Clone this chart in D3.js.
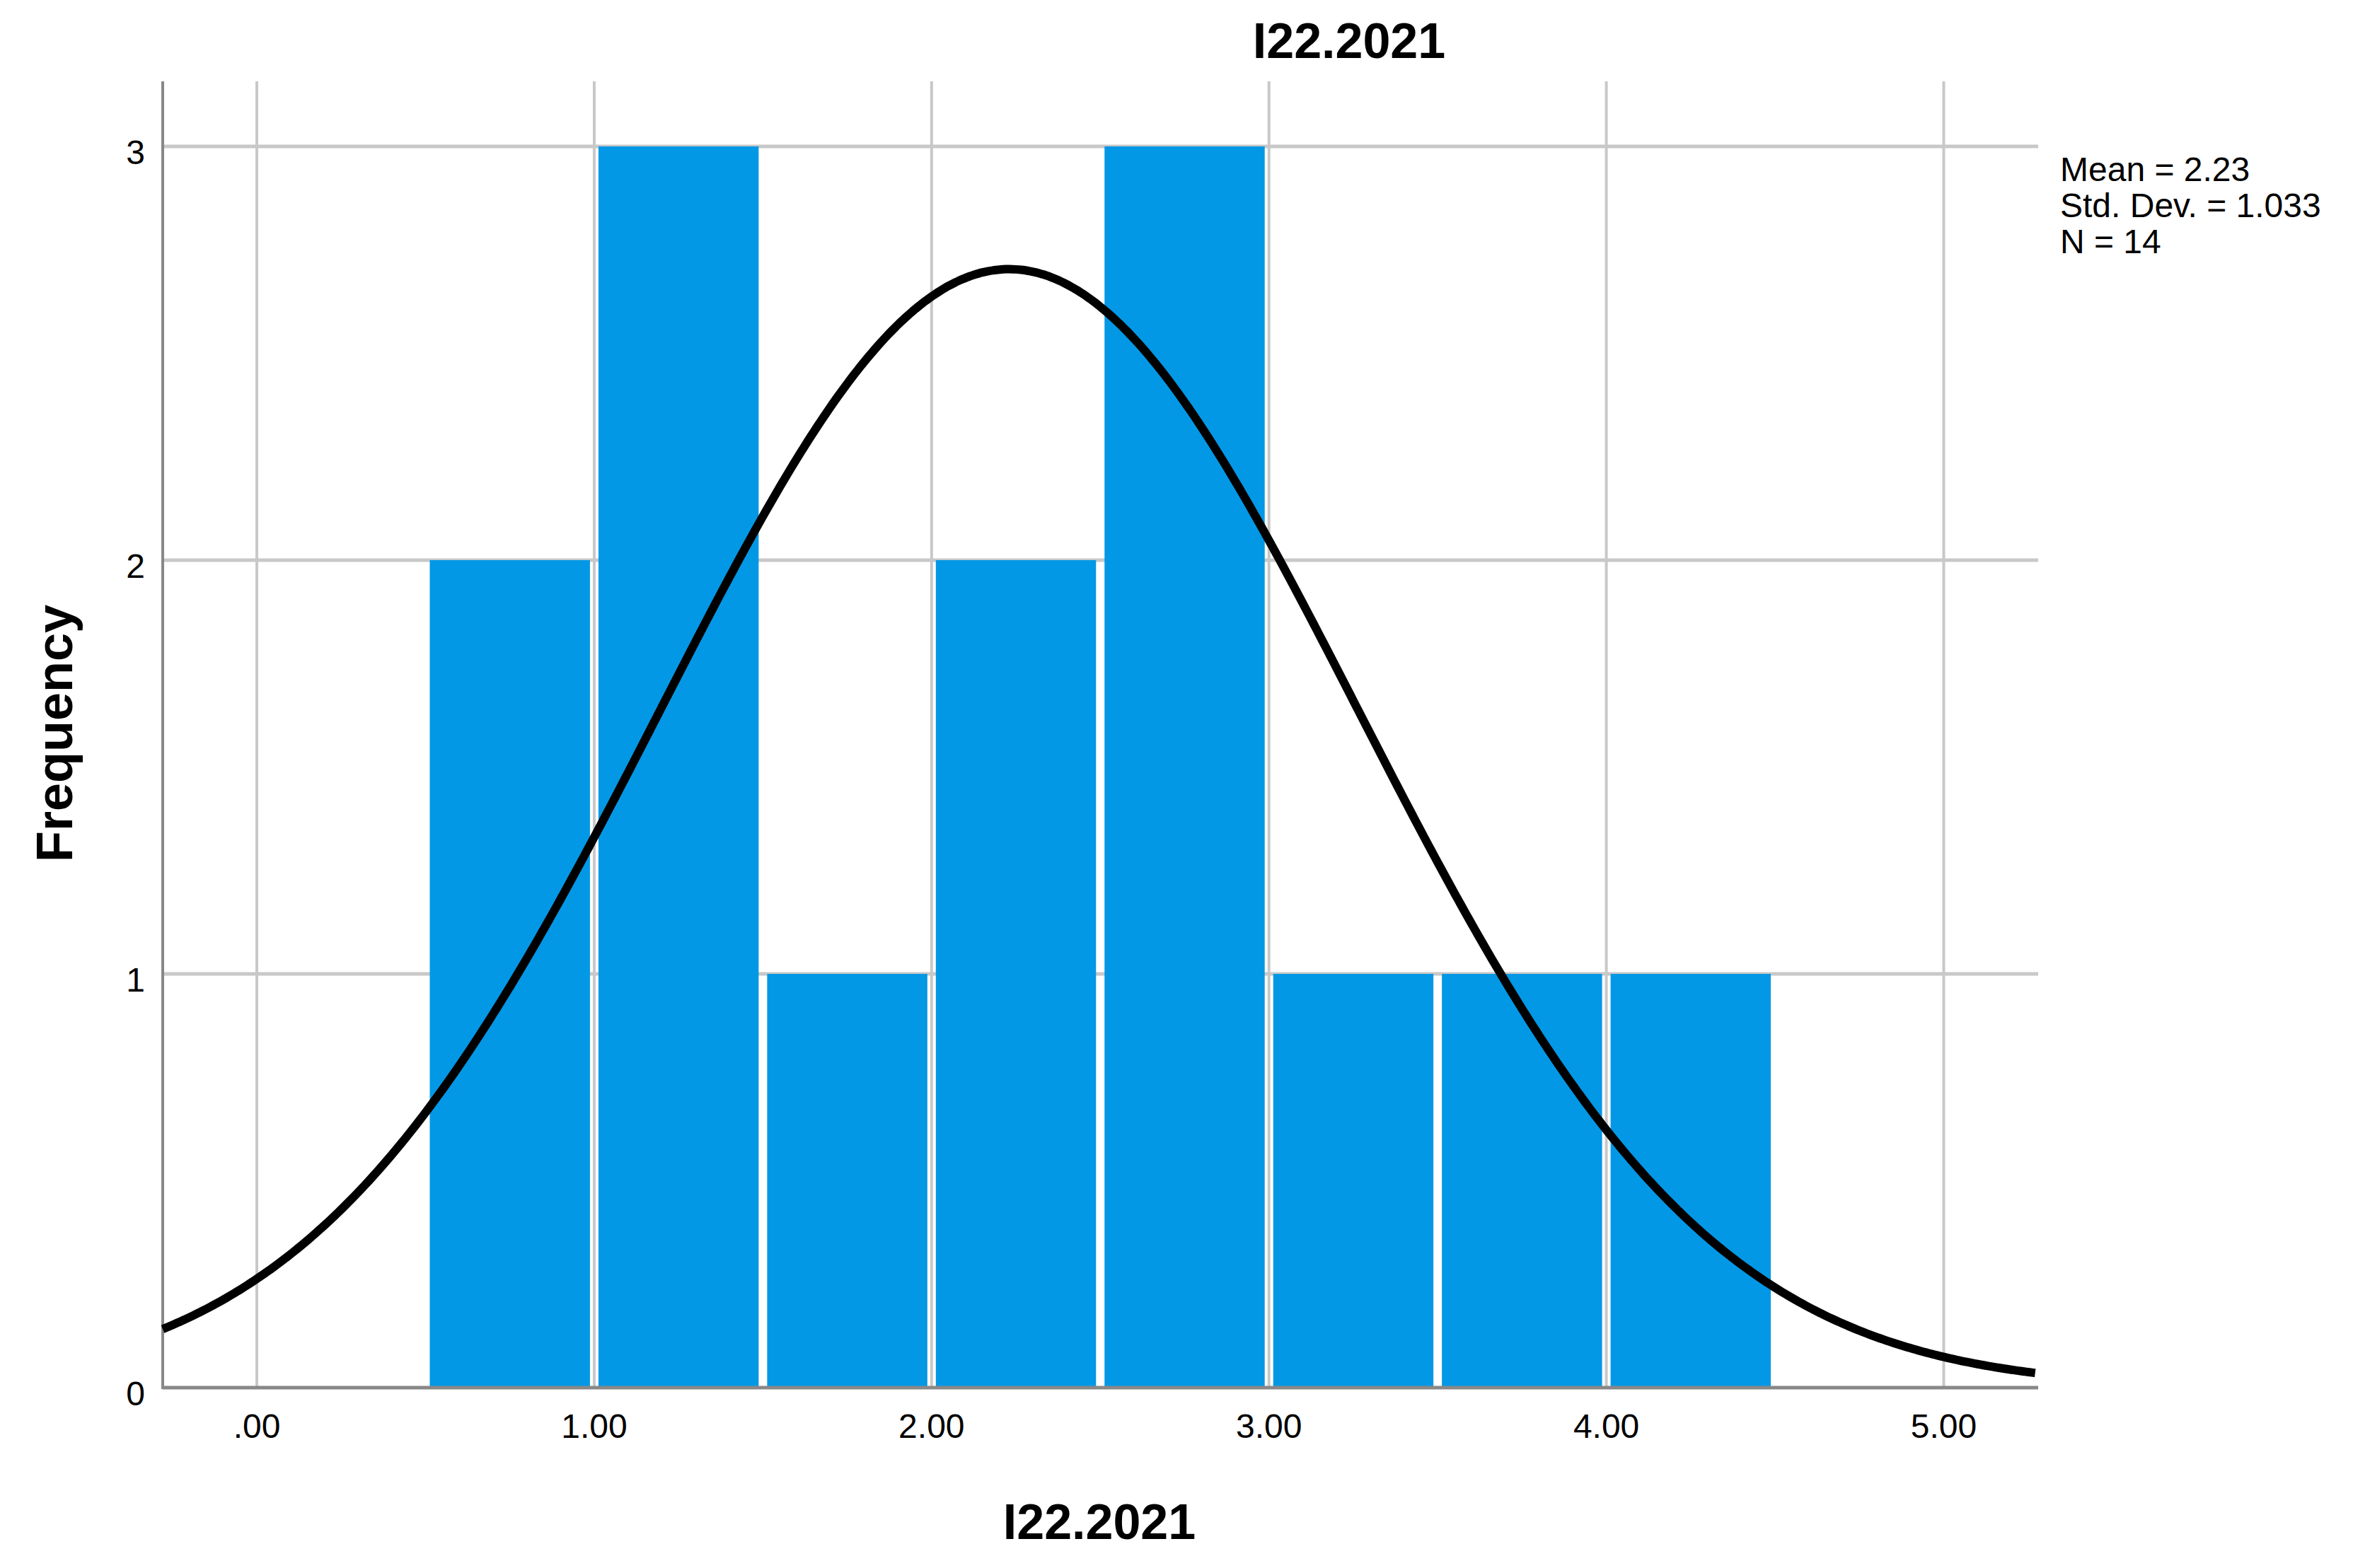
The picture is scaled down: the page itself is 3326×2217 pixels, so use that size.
<!DOCTYPE html>
<html>
<head>
<meta charset="utf-8">
<script src="https://cdn.jsdelivr.net/npm/d3@7"></script>
<style>
  body { margin: 0; background: #fff; }
  text { font-family: Arial, "Liberation Sans", sans-serif; fill: #000; }
</style>
</head>
<body>
<svg id="chart" width="3326" height="2217"></svg>
<script>
const WIDTH = 3326;
const HEIGHT = 2217;

// histogram bins (lower edge, width 0.5) and counts
const binStarts = [0.5, 1.0, 1.5, 2.0, 2.5, 3.0, 3.5, 4.0];
const counts = [2, 3, 1, 2, 3, 1, 1, 1];
const binWidth = 0.5;
const xTicks = [0, 1, 2, 3, 4, 5];
const yTicks = [0, 1, 2, 3];
const stats = ["Mean = 2.23", "Std. Dev. = 1.033", "N = 14"];
const mean = 2.23, sd = 1.033, n = 14;

const plotLeft = 230, plotRight = 2881, plotTop = 115, plotBottom = 1962;

const x = d3.scaleLinear().domain([-0.279, 5.28]).range([plotLeft, plotRight]);
const y = d3.scaleLinear().domain([0, 3]).range([plotBottom, 207]);

const svg = d3.select("#chart");
const GRID = "#c8c8c8";

// grid lines
svg.append("g").selectAll("line").data(xTicks).join("line")
  .attr("x1", d => x(d)).attr("x2", d => x(d))
  .attr("y1", plotTop).attr("y2", plotBottom)
  .style("stroke", GRID).style("stroke-width", 4);
svg.append("g").selectAll("line").data(yTicks.filter(d => d > 0)).join("line")
  .attr("x1", plotLeft).attr("x2", plotRight)
  .attr("y1", d => y(d)).attr("y2", d => y(d))
  .style("stroke", GRID).style("stroke-width", 5);

// bars
svg.append("g").selectAll("rect").data(binStarts).join("rect")
  .attr("x", d => x(d) + 6)
  .attr("width", d => x(d + binWidth) - x(d) - 12)
  .attr("y", (d, i) => y(counts[i]))
  .attr("height", (d, i) => y(0) - y(counts[i]))
  .style("fill", "#0398e6");

// axes lines
svg.append("line").attr("x1", plotLeft).attr("x2", plotLeft).attr("y1", plotTop).attr("y2", plotBottom + 2)
  .style("stroke", "#888").style("stroke-width", 4);
svg.append("line").attr("x1", plotLeft).attr("x2", plotRight).attr("y1", plotBottom).attr("y2", plotBottom)
  .style("stroke", "#888").style("stroke-width", 5);

// normal curve
const scale = n * binWidth / (sd * Math.sqrt(2 * Math.PI));
const curvePts = d3.range(-0.279, 5.2801, 0.01).map(v => [v, scale * Math.exp(-0.5 * ((v - mean) / sd) ** 2)]);
svg.append("path")
  .datum(curvePts)
  .attr("d", d3.line().x(d => x(d[0])).y(d => y(d[1])).curve(d3.curveBasis))
  .style("fill", "none").style("stroke", "#000").style("stroke-width", 12);

// tick labels
const fmt = v => v === 0 ? ".00" : v.toFixed(2);
svg.append("g").selectAll("text").data(xTicks).join("text")
  .attr("x", d => x(d)).attr("y", 2033)
  .attr("text-anchor", "middle")
  .style("font-size", "48px")
  .text(fmt);
svg.append("g").selectAll("text").data(yTicks).join("text")
  .attr("x", 205).attr("y", d => y(d) + 25)
  .attr("text-anchor", "end")
  .style("font-size", "48px")
  .text(d => d);

// titles
svg.append("text").attr("x", 1907).attr("y", 82).attr("text-anchor", "middle")
  .style("font-size", "70px").style("font-weight", "bold").text("I22.2021");
svg.append("text").attr("x", 1554).attr("y", 2176).attr("text-anchor", "middle")
  .style("font-size", "70px").style("font-weight", "bold").text("I22.2021");
svg.append("text").attr("transform", "translate(102,1037) rotate(-90)")
  .attr("text-anchor", "middle")
  .style("font-size", "72px").style("font-weight", "bold").text("Frequency");

// stats
svg.append("g").selectAll("text").data(stats).join("text")
  .attr("x", 2912).attr("y", (d, i) => 256 + i * 51)
  .style("font-size", "48px")
  .text(d => d);
</script>
</body>
</html>
